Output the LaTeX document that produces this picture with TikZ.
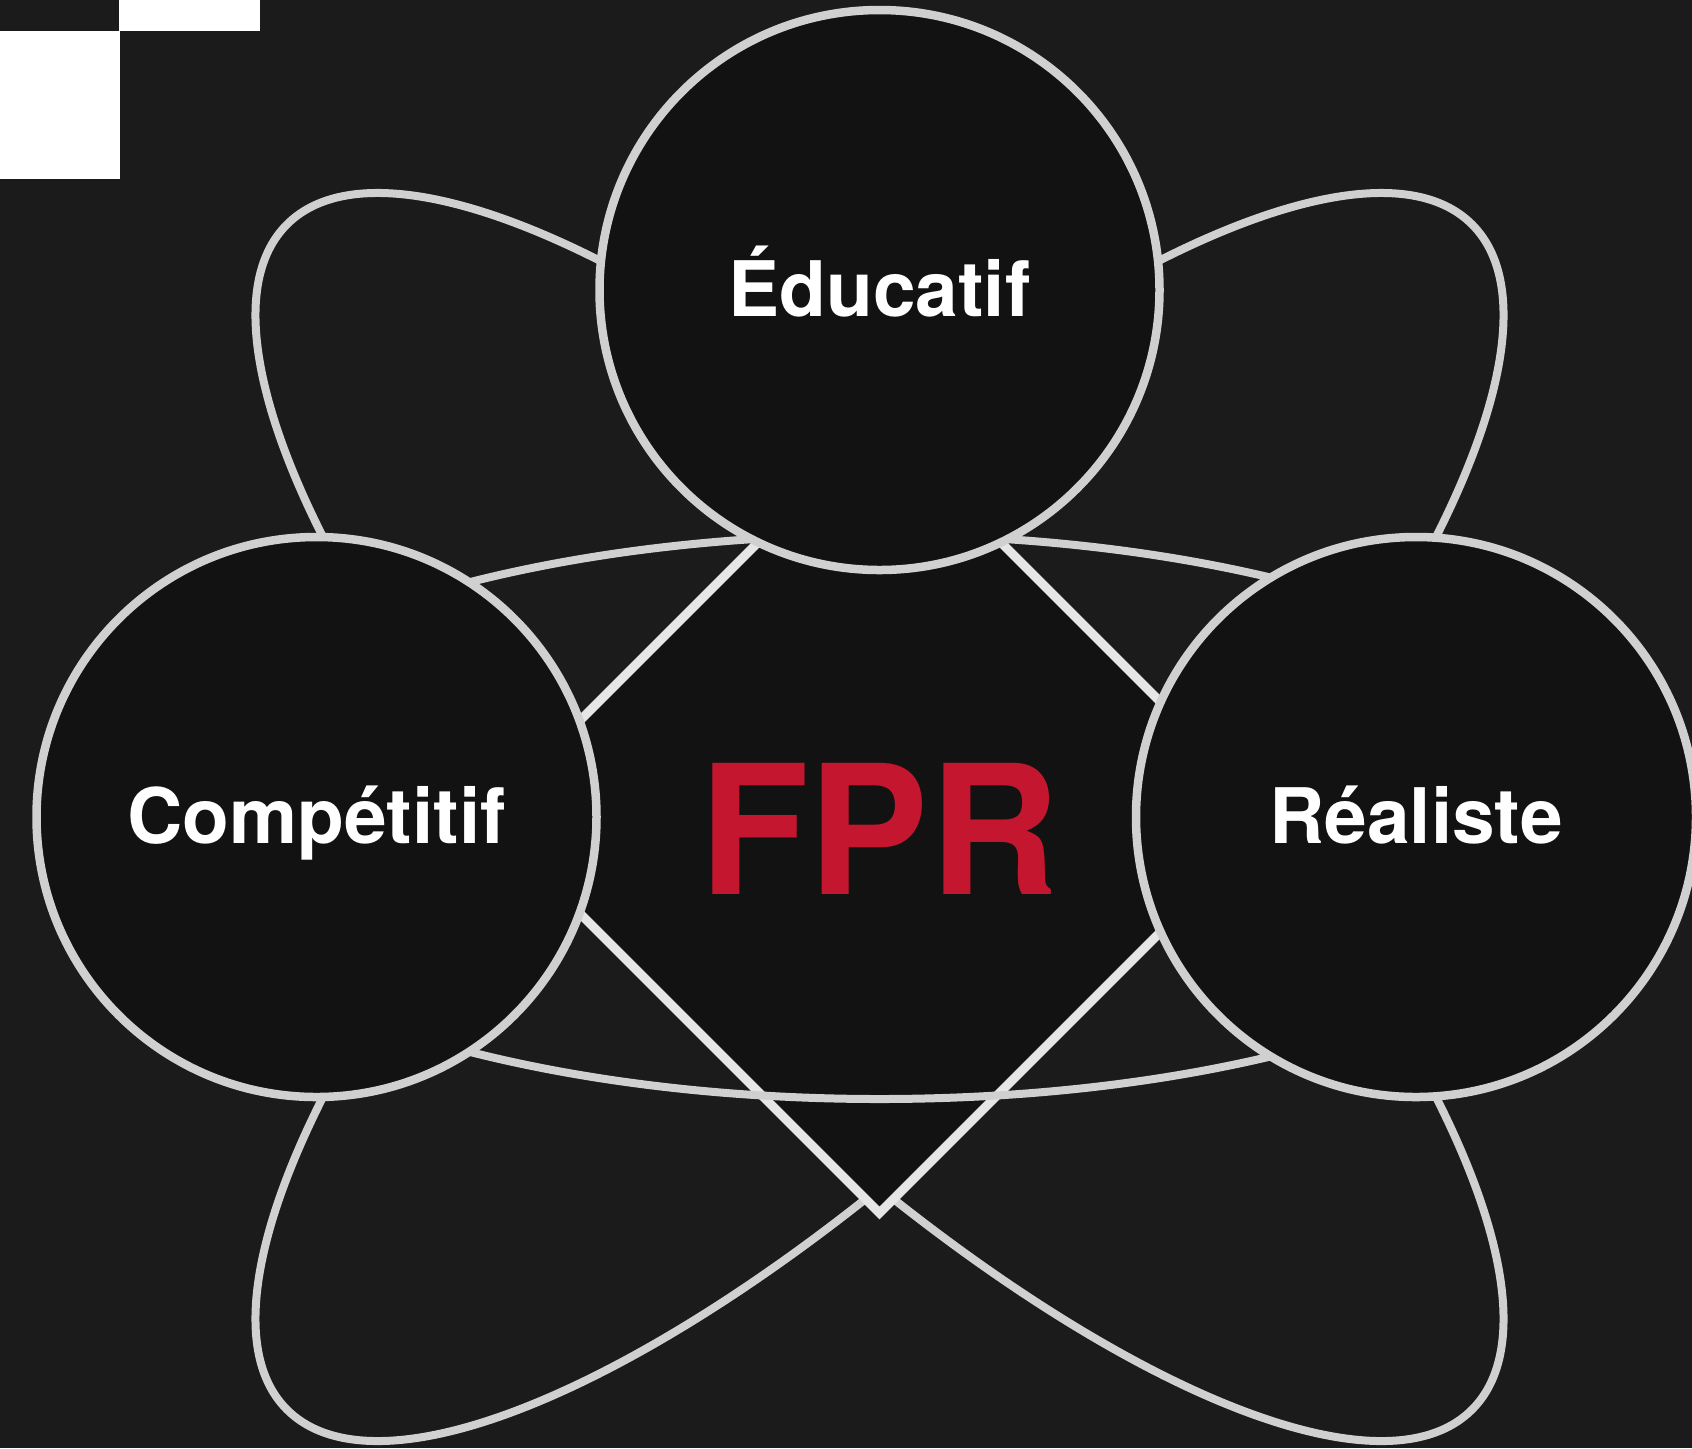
\documentclass[tikz,border=0pt]{standalone}
\usepackage{fontspec}
\setmainfont{TeX Gyre Heros}
\definecolor{bgdark}{HTML}{1B1B1B}
\definecolor{filldark}{HTML}{121212}
\definecolor{ringgray}{HTML}{D0D0D0}
\definecolor{diamgray}{HTML}{E6E6E6}
\definecolor{fprred}{HTML}{C4162F}
\tikzset{
	ring/.style={circle, draw=ringgray, fill=filldark, line width=4.25pt, minimum size=280pt, inner sep=0pt,
		text=white, font=\fontsize{38.3}{40}\selectfont\bfseries, text height=26.8pt, text depth=0pt},
	petal/.style={draw=ringgray, line width=4pt},
}

\begin{document}
\begin{tikzpicture}[x=0.5pt, y=0.5pt]
			%%%%% START %%%%%
			
			\useasboundingbox (0, 0) rectangle (1692, -1448);
			\fill[bgdark] (0, 0) rectangle (1692, -1448);
			
			\fill[white] (0, -31) rectangle (120, -179);
			\fill[white] (119, 0) rectangle (260, -31);
			
			\coordinate (mid) at (879.5, -817);
			
			\draw[petal, rotate around={45:(mid)}] (mid) ellipse [x radius=838, y radius=276];
			\draw[petal, rotate around={-45:(mid)}] (mid) ellipse [x radius=838, y radius=276];
			
			\draw[line width=4.5pt, draw=diamgray, fill=filldark] (879.5, -421) -- (1275.5, -817) -- (879.5, -1213) -- (483.5, -817) -- cycle;
			
			\draw[petal] (mid) ellipse [x radius=740, y radius=282];
			
			\node[text=fprred, font=\fontsize{90}{90}\selectfont\bfseries] (fpr) at (879, -829) {FPR};
			
			\node[ring] (edu) at (879.5, -290) {Éducatif};
			\node[ring] (comp) at (316.5, -817) {Compétitif};
			\node[ring] (real) at (1416, -817) {Réaliste};
			
			%%%%% END %%%%%
\end{tikzpicture}
\end{document}
